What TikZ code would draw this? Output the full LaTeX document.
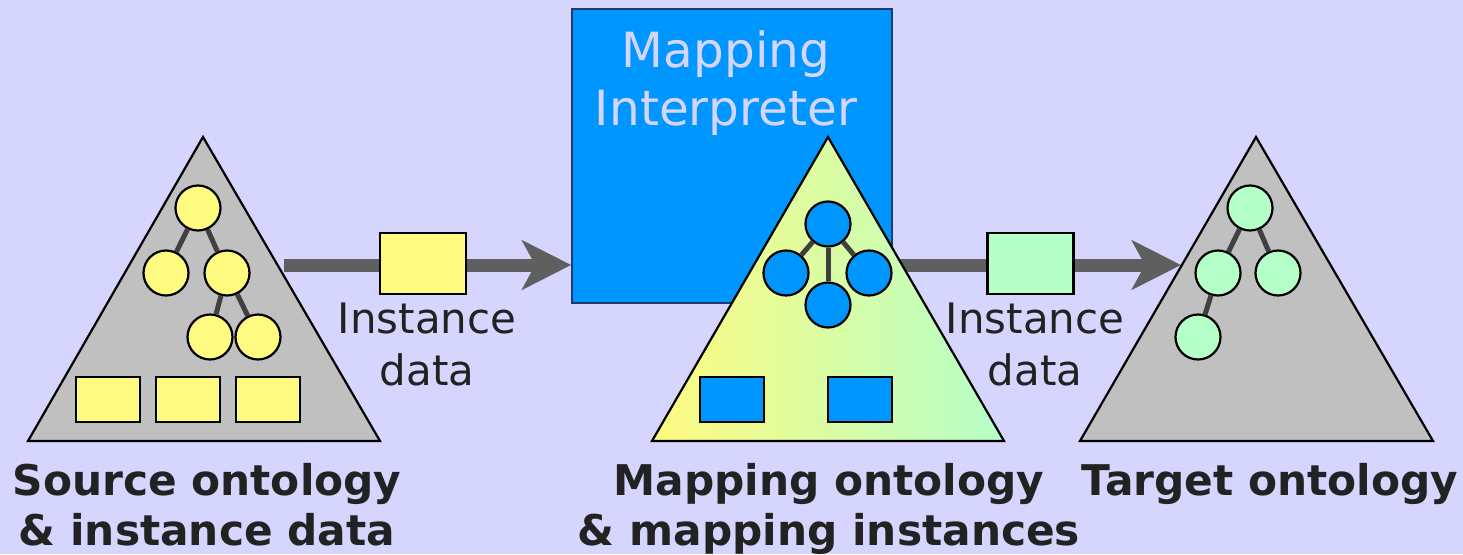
\documentclass[tikz,border=0pt]{standalone}
\usepackage{fontspec}
\setmainfont{DejaVu Sans}
\usetikzlibrary{arrows.meta,positioning}

\definecolor{bglav}{RGB}{213,213,253}
\definecolor{ontogray}{RGB}{192,192,192}
\definecolor{srcyellow}{RGB}{255,250,128}
\definecolor{tgtgreen}{RGB}{181,255,200}
\definecolor{mapblue}{RGB}{0,150,255}
\definecolor{boxedge}{RGB}{30,60,110}
\definecolor{flowgray}{RGB}{95,95,95}
\definecolor{linkgray}{RGB}{64,64,64}
\definecolor{textdark}{RGB}{34,34,34}

\tikzset{
  onto/.style={draw, line width=2.2pt, line join=miter},
  cls/.style={circle, draw, line width=2.2pt, minimum size=45pt, inner sep=0pt},
  inst/.style={draw, line width=2.2pt, minimum width=64pt, minimum height=45pt, inner sep=0pt},
  databox/.style={draw, line width=2.2pt, minimum width=86pt, minimum height=61pt, inner sep=0pt},
  link/.style={draw=linkgray, line width=5pt},
  flow/.style={draw=flowgray, line width=13pt, -{Stealth[length=49pt,width=49pt,inset=13pt]}},
  caption/.style={font=\fontsize{42.3}{50}\selectfont\bfseries, text=textdark, align=center, inner sep=0pt},
  datalabel/.style={font=\fontsize{42}{52}\selectfont, text=textdark, align=center, inner sep=0pt},
}

\begin{document}
\begin{tikzpicture}[x=1pt, y=-1pt]
\fill[bglav] (0,0) rectangle (1463,554);
\useasboundingbox (0,0) rectangle (1463,554);

% mapping interpreter
\node[draw=boxedge, line width=1.6pt, fill=mapblue, minimum width=320pt, minimum height=294pt, inner sep=0pt] (interp) at (732,156) {};
\node[font=\fontsize{48.5}{58}\selectfont, text=bglav, align=center, inner sep=0pt, anchor=base] (interptext) at (726,125) {Mapping\\Interpreter};

% source ontology
\draw[onto, fill=ontogray] (203,137) coordinate (srctop) -- (380,441) -- (28,441) -- cycle;
\node[cls, fill=srcyellow] (s1) at (198,208) {};
\node[cls, fill=srcyellow] (s2) at (166,273) {};
\node[cls, fill=srcyellow] (s3) at (227,273) {};
\node[cls, fill=srcyellow] (s4) at (210,337) {};
\node[cls, fill=srcyellow] (s5) at (258,337) {};
\draw[link] (s1) -- (s2);
\draw[link] (s1) -- (s3);
\draw[link] (s3) -- (s4);
\draw[link] (s3) -- (s5);
\foreach \x/\n in {108/1, 188/2, 268/3}
  \node[inst, fill=srcyellow] (si\n) at (\x,399.5) {};

% second flow runs under the mapping ontology
\coordinate (mapout) at (893,265);
\coordinate (tgtin) at (1181,265);
\draw[flow] (mapout) -- (tgtin);

% mapping ontology
\draw[onto, left color=srcyellow, right color=tgtgreen] (828,137) coordinate (maptop) -- (1004,441) -- (652,441) -- cycle;
\node[cls, fill=mapblue] (m1) at (828,224) {};
\node[cls, fill=mapblue] (m2) at (786,273) {};
\node[cls, fill=mapblue] (m3) at (869,273) {};
\node[cls, fill=mapblue] (m4) at (828,305) {};
\draw[link] (m1) -- (m2);
\draw[link] (m1) -- (m3);
\draw[link] (m1) -- (m4);
\node[inst, fill=mapblue] (mi1) at (732,399.5) {};
\node[inst, fill=mapblue] (mi2) at (860,399.5) {};

% target ontology
\draw[onto, fill=ontogray] (1256,137) coordinate (tgttop) -- (1433,441) -- (1080,441) -- cycle;
\node[cls, fill=tgtgreen] (t1) at (1250,208) {};
\node[cls, fill=tgtgreen] (t2) at (1218,273) {};
\node[cls, fill=tgtgreen] (t3) at (1278,273) {};
\node[cls, fill=tgtgreen] (t4) at (1198,337) {};
\draw[link] (t1) -- (t2);
\draw[link] (t1) -- (t3);
\draw[link] (t2) -- (t4);

% first flow: source -> interpreter
\coordinate (srcout) at (284,265);
\draw[flow] (srcout) -- (srcout -| interp.west);

% instance data on the flows
\node[databox, fill=srcyellow] (d1) at (423,263.5) {};
\node[databox, fill=tgtgreen] (d2) at (1030.5,263.5) {};
\node[datalabel, anchor=base] (d1text) at (427,385) {Instance\\data};
\node[datalabel, anchor=base] (d2text) at (1035,385) {Instance\\data};

% captions
\node[caption, anchor=base] (srccap) at (207,545) {Source ontology\\\& instance data};
\node[caption, anchor=base] (mapcap) at (829,545) {Mapping ontology\\\& mapping instances};
\node[caption, anchor=base] (tgtcap) at (1270,495) {Target ontology};
\end{tikzpicture}
\end{document}
